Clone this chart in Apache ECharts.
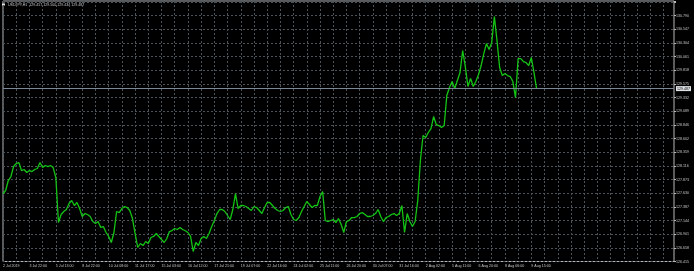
<!DOCTYPE html>
<html><head><meta charset="utf-8">
<script src="https://cdn.jsdelivr.net/npm/echarts@6/dist/echarts.min.js"></script>
<style>html,body{margin:0;padding:0;background:#000}#c{width:694px;height:271px}</style>
</head><body><div id="c"></div>
<script>
const titleText = 'USDJPY,H1  129.457 129.500 129.434 129.487';
const dateLabels = ['2 Jul 2019','3 Jul 22:00','5 Jul 13:00','8 Jul 22:00','10 Jul 08:00','11 Jul 17:00','15 Jul 03:00','16 Jul 12:00','17 Jul 21:00','19 Jul 07:00','22 Jul 16:00','24 Jul 02:00','25 Jul 11:00','26 Jul 20:00','30 Jul 07:00','31 Jul 16:00','2 Aug 02:00','5 Aug 11:00','6 Aug 20:00','8 Aug 06:00','9 Aug 15:00'];
const priceLabels = ['126.415','126.658','126.901','127.144','127.387','127.630','127.873','128.116','128.359','128.602','128.846','129.089','129.332','129.575','129.818','130.061','130.304','130.547','130.790'];
const closeValues = [
127.624,127.677,127.855,127.926,128.104,128.157,128.175,128.033,128.051,127.997,
128.033,128.015,128.051,128.069,128.175,128.086,128.122,128.104,128.122,128.086,
127.909,127.108,127.251,127.304,127.340,127.446,127.500,127.411,127.464,127.357,
127.215,127.268,127.251,127.215,127.126,127.091,127.126,127.020,127.037,126.931,
126.860,126.753,126.931,127.304,127.286,127.357,127.393,127.375,127.322,127.180,
126.913,126.664,126.735,126.699,126.771,126.735,126.842,126.860,126.913,126.860,
126.806,126.753,126.824,126.948,126.966,127.002,126.984,127.020,126.984,126.962,126.931,
126.860,126.593,126.753,126.699,126.824,126.860,126.824,126.913,127.037,127.144,
127.268,127.340,127.340,127.304,127.233,127.162,127.340,127.624,127.357,127.411,
127.411,127.393,127.357,127.322,127.393,127.375,127.322,127.268,127.375,127.464,
127.464,127.411,127.357,127.322,127.304,127.322,127.375,127.393,127.251,127.162,
127.144,127.197,127.304,127.393,127.482,127.428,127.375,127.411,127.411,127.571,
127.660,127.144,127.126,127.144,127.162,127.108,127.180,127.073,126.931,127.126,
127.144,127.197,127.197,127.215,127.268,127.286,127.251,127.215,127.215,127.233,
127.268,127.340,127.215,127.126,127.197,127.215,127.251,127.268,127.233,127.268,
127.411,126.931,127.268,127.126,127.037,127.126,127.500,128.211,128.655,128.620,
128.709,128.780,128.993,128.851,128.833,128.798,128.833,129.366,129.509,129.615,
129.491,129.633,129.775,130.167,129.882,129.527,129.669,129.527,129.615,129.740,
129.900,130.113,130.291,130.184,130.309,130.771,130.344,129.864,129.722,129.758,
129.722,129.704,129.615,129.331,130.024,130.024,129.971,129.953,129.900,130.042,
129.775,129.487];
const bidPrice = closeValues[closeValues.length - 1];

const CAT_COUNT = 255;
const cats = Array.from({length: CAT_COUNT}, (_, i) => i);
const PRICE_MIN = 126.415, PRICE_STEP = 4.375 / 18;
const GRID_TOP = 1, GRID_BOTTOM = 9.5, STEP_PX = 246 / 18;
const plotH = 271 - GRID_TOP - GRID_BOTTOM;
const steps = plotH / STEP_PX;
const FONT = 'Liberation Sans';
const txt = '#c8c8c8';
const gridLine = {color: '#4a525a', type: [2, 2], width: 1};

const chart = echarts.init(document.getElementById('c'), null, {renderer: 'canvas'});
chart.setOption({
  backgroundColor: '#000',
  animation: false,
  grid: {left: 1.5, right: 20, top: GRID_TOP, bottom: GRID_BOTTOM, show: true, borderColor: '#b8b8b8', borderWidth: 1},
  xAxis: {
    type: 'category', data: cats, boundaryGap: false,
    axisLine: {show: false}, axisTick: {show: false},
    axisLabel: {interval: 9, align: 'left', margin: 2.5, color: txt, fontSize: 3.6, fontFamily: FONT,
      formatter: (v, idx) => (idx % 10 === 0 && dateLabels[idx / 10]) ? dateLabels[idx / 10] : ''},
    splitLine: {show: true, interval: 4, lineStyle: gridLine}
  },
  yAxis: [{
    type: 'value', position: 'right', min: 0, max: steps, interval: 1,
    axisLine: {show: false},
    axisTick: {show: true, length: 2, lineStyle: {color: '#b8b8b8'}},
    axisLabel: {margin: 2, color: txt, fontSize: 3.6, fontFamily: FONT,
      formatter: v => { const r = Math.round(v); return Math.abs(v - r) < 1e-6 && priceLabels[r] ? priceLabels[r] : ''; }},
    splitLine: {show: true, lineStyle: gridLine}
  }, {
    type: 'value', show: false, min: PRICE_MIN, max: PRICE_MIN + steps * PRICE_STEP,
    splitLine: {show: false}
  }],
  series: [{
    type: 'line', yAxisIndex: 1, data: closeValues, showSymbol: false, symbol: 'none',
    lineStyle: {color: '#14c414', width: 1.3}, silent: true,
    markLine: {
      silent: true, symbol: 'none',
      lineStyle: {color: '#7a8896', type: 'solid', width: 1},
      label: {position: 'end', distance: 2, formatter: () => bidPrice.toFixed(3), color: '#000',
        backgroundColor: '#dfe3e6', padding: [1, 1, 0, 1], fontSize: 3.6, fontFamily: FONT},
      data: [{yAxis: bidPrice}]
    }
  }],
  graphic: [
    {type: 'rect', left: 2, top: 3.5, shape: {width: 3, height: 2}, style: {fill: '#e0e0e0'}},
    {type: 'text', left: 8, top: 2.6, style: {text: titleText, fill: txt, fontSize: 3.6, fontFamily: FONT}}
  ]
});
</script></body></html>
